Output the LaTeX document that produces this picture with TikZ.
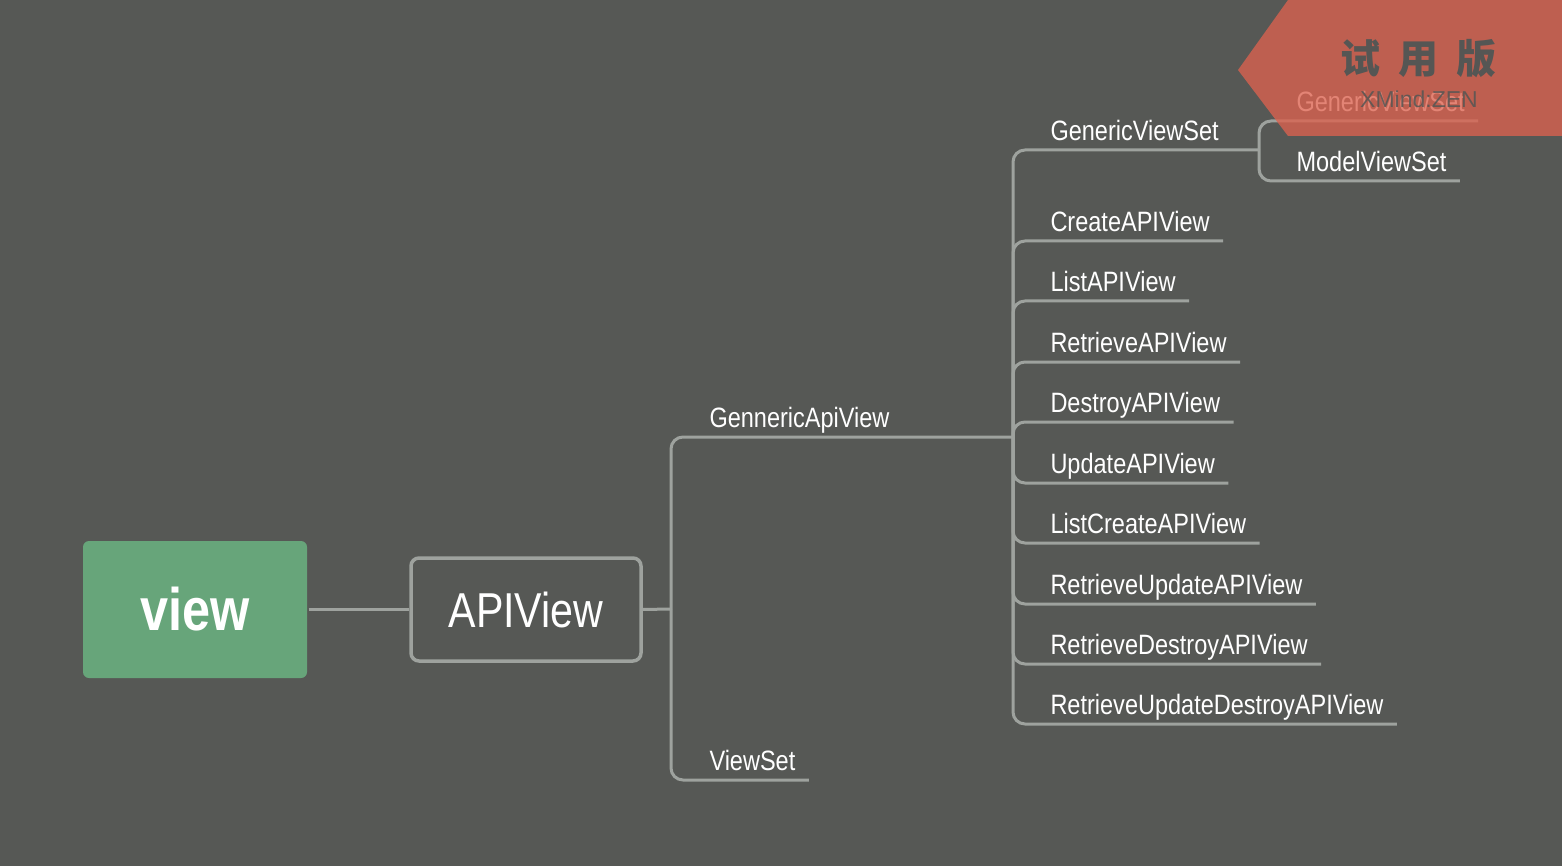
\documentclass[tikz,border=0pt]{standalone}
\usepackage{fontspec}
\setmainfont{Liberation Sans}[FakeStretch=0.84]
\newfontfamily\cjk{Noto Sans CJK SC}
\newfontfamily\wmfont{Liberation Sans}
\definecolor{bg}{RGB}{86,88,85}
\definecolor{linegray}{RGB}{158,162,158}
\definecolor{viewgreen}{RGB}{103,165,122}
\definecolor{wmred}{RGB}{220,98,79}
\definecolor{wmtext}{RGB}{85,86,84}
\begin{document}
\begin{tikzpicture}[x=1pt,y=-1pt,
        line width=3pt,
        branch/.style={draw=linegray,rounded corners=12pt},
        leaf/.style={anchor=south west,inner xsep=12pt,inner ysep=8pt,text depth=0pt,
            text=white,font=\fontsize{28}{28}\selectfont}]
    \fill[bg] (0,0) rectangle (1562,866);
    \useasboundingbox (0,0) rectangle (1562,866);
    % root and first level
    \node[fill=viewgreen,rounded corners=6pt,minimum width=224pt,minimum height=137pt,
        text=white,font=\fontsize{60}{60}\selectfont\bfseries] (view) at (195,609.5) {view};
    \node[draw=linegray,line width=3.5pt,fill=bg,rounded corners=8pt,minimum width=230pt,
        minimum height=103pt,text=white,font=\fontsize{49}{49}\selectfont] (api) at (526,609.5) {APIView};
    \coordinate (j1) at (671,609);
    \node[leaf] (gav) at (696,437) {GennericApiView};
    \node[leaf] (vs) at (696,780) {ViewSet};
    % generic views
    \coordinate (j2) at (1013,437);
    \node[leaf] (gvs) at (1037,150) {GenericViewSet};
    \node[leaf] (create) at (1037,241) {CreateAPIView};
    \node[leaf] (list) at (1037,301) {ListAPIView};
    \node[leaf] (retrieve) at (1037,362) {RetrieveAPIView};
    \node[leaf] (destroy) at (1037,422) {DestroyAPIView};
    \node[leaf] (update) at (1037,483) {UpdateAPIView};
    \node[leaf] (listcreate) at (1037,543) {ListCreateAPIView};
    \node[leaf] (retupd) at (1037,604) {RetrieveUpdateAPIView};
    \node[leaf] (retdes) at (1037,664) {RetrieveDestroyAPIView};
    \node[leaf] (retupddes) at (1037,724) {RetrieveUpdateDestroyAPIView};
    % viewsets
    \coordinate (j3) at (1259,150);
    \node[leaf] (gvsub) at (1283,121) {GenericViewSet};
    \node[leaf] (model) at (1283,181) {ModelViewSet};
    % connectors
    \draw[branch] (view.east) -- (api.west);
    \draw[branch] (api.east) -- (j1);
    \draw[branch] (j1) |- (gav.south east) -- (j2);
    \draw[branch] (j1) |- (vs.south east);
    \draw[branch] (j2) |- (gvs.south east) -- (j3);
    \draw[branch] (j2) |- (create.south east);
    \draw[branch] (j2) |- (list.south east);
    \draw[branch] (j2) |- (retrieve.south east);
    \draw[branch] (j2) |- (destroy.south east);
    \draw[branch] (j2) |- (update.south east);
    \draw[branch] (j2) |- (listcreate.south east);
    \draw[branch] (j2) |- (retupd.south east);
    \draw[branch] (j2) |- (retdes.south east);
    \draw[branch] (j2) |- (retupddes.south east);
    \draw[branch] (j3) |- (gvsub.south east);
    \draw[branch] (j3) |- (model.south east);
    % trial badge
    \fill[wmred,opacity=0.78] (1288,0) -- (1562,0) -- (1562,136) -- (1288,136) -- (1238,70) -- cycle;
    \node[text=wmtext,font=\cjk\bfseries\fontsize{40}{40}\selectfont] (trial) at (1418,59)
        {试\hspace{18pt}用\hspace{18pt}版};
    \node[text=wmtext,opacity=0.85,font=\wmfont\fontsize{23}{23}\selectfont] (brand) at (1419,99) {XMind:ZEN};
\end{tikzpicture}
\end{document}
